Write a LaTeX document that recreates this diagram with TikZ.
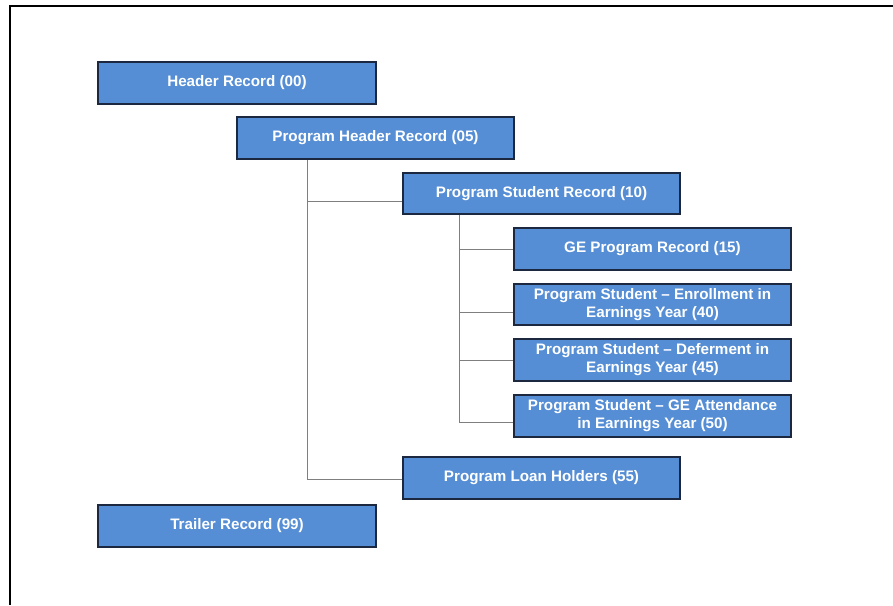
\documentclass[tikz,border=0pt]{standalone}
\usepackage{fontspec}
\setmainfont{Liberation Sans}
\definecolor{boxfill}{HTML}{558ED5}
\definecolor{boxline}{HTML}{1C2840}
\definecolor{conn}{HTML}{7F7F7F}
\begin{document}
\begin{tikzpicture}[x=1pt,y=-1pt,
  rec/.style={draw=boxline,line width=1.6pt,fill=boxfill,
    minimum width=277pt,minimum height=41pt,inner sep=0pt,
    align=center,text=white,
    font=\fontsize{15.2pt}{18pt}\selectfont\bfseries},
  link/.style={draw=conn,line width=1pt}]
\useasboundingbox (0,0) rectangle (893,605);
\fill[white] (0,0) rectangle (893,605);
\draw[line width=2pt,black] (9.5,605) -- (9.5,6) -- (893,6);

\node[rec,minimum width=278pt,minimum height=42pt] (h00) at (237,83) {Header Record (00)};
\node[rec,minimum height=42pt] (h05) at (375.5,138) {Program Header Record (05)};
\node[rec] (r10) at (541.5,193.5) {Program Student Record (10)};
\node[rec,minimum height=42pt] (r15) at (652.5,249) {GE Program Record (15)};
\node[rec] (r40) at (652.5,304.5) {Program Student -- Enrollment in\\Earnings Year (40)};
\node[rec,minimum height=42pt] (r45) at (652.5,360) {Program Student -- Deferment in\\Earnings Year (45)};
\node[rec,minimum height=42pt] (r50) at (652.5,416) {Program Student -- GE Attendance\\in Earnings Year (50)};
\node[rec,minimum height=42pt] (r55) at (541.5,478) {Program Loan Holders (55)};
\node[rec,minimum width=278pt,minimum height=42pt] (r99) at (237,526) {Trailer Record (99)};

% level-1 branches
\coordinate (v1) at (307,0);
\coordinate (b10) at (0,201);
\coordinate (b55) at (0,479);
\begin{scope}[on background layer/.try]
\end{scope}
\draw[link] (v1 |- h05.south) -- (v1 |- b55) -- (r55.west |- b55);
\draw[link] (v1 |- b10) -- (r10.west |- b10);

% level-2 branches
\coordinate (v2) at (459,0);
\coordinate (b15) at (0,249);
\coordinate (b40) at (0,312);
\coordinate (b45) at (0,360);
\coordinate (b50) at (0,422);
\draw[link] (v2 |- r10.south) -- (v2 |- b50) -- (r50.west |- b50);
\draw[link] (v2 |- b15) -- (r15.west |- b15);
\draw[link] (v2 |- b40) -- (r40.west |- b40);
\draw[link] (v2 |- b45) -- (r45.west |- b45);
\end{tikzpicture}
\end{document}
